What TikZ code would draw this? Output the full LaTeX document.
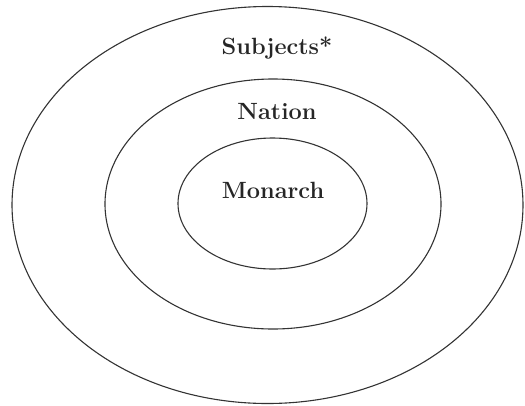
\documentclass[tikz,border=0pt]{standalone}
\begin{document}
\begin{tikzpicture}[x=1pt,y=-1pt,
  ring/.style={draw=black!80,line width=1.1pt},
  lbl/.style={font=\fontsize{23.5}{28}\selectfont\bfseries,text=black!85,inner sep=0pt}]
\useasboundingbox (0,0) rectangle (525,405);
\draw[ring] (267.5,205) ellipse [x radius=255.5,y radius=198.5];
\draw[ring] (273,204) ellipse [x radius=168,y radius=125];
\draw[ring] (272.5,203.5) ellipse [x radius=94.5,y radius=65.5];
\node[lbl] (subjects) at (277,48) {Subjects*};
\node[lbl] (nation) at (277,112) {Nation};
\node[lbl] (monarch) at (273,190) {Monarch};
\end{tikzpicture}
\end{document}
